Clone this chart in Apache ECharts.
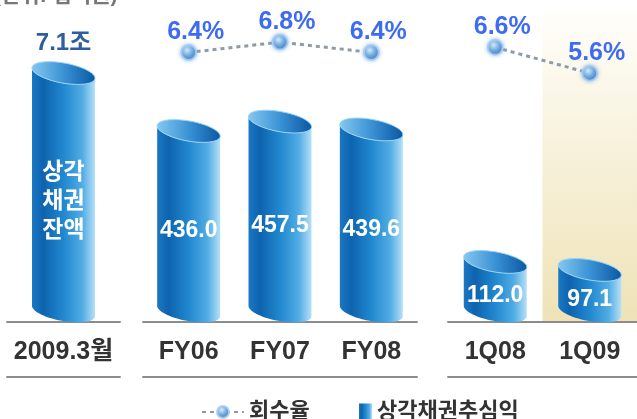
<!DOCTYPE html>
<html>
<head>
<meta charset="utf-8">
<script src="https://cdn.jsdelivr.net/npm/echarts/dist/echarts.min.js"></script>
<style>
  html, body { margin: 0; padding: 0; background: #fff; }
  #chart { width: 637px; height: 419px; }
</style>
</head>
<body>
<div id="chart"></div>
<script>
// data
var balanceCategory = ['2009.3월'];
var balanceValue = [7.1];            // 조원
var balanceText = ['상각\n채권\n잔액'];
var yearCategories = ['FY06', 'FY07', 'FY08'];
var yearCollections = [436.0, 457.5, 439.6];   // 십억원
var yearRecoveryRate = [6.4, 6.8, 6.4];        // %
var quarterCategories = ['1Q08', '1Q09'];
var quarterCollections = [112.0, 97.1];
var quarterRecoveryRate = [6.6, 5.6];

var FONT = "'Liberation Sans', 'Noto Sans CJK KR', sans-serif";
var BAR_W = 64, RY = 10, TILT = 0.18;

var bodyColor = new echarts.graphic.LinearGradient(0, 0, 1, 0, [
  { offset: 0, color: '#1a78c4' },
  { offset: 0.18, color: '#0e63ae' },
  { offset: 0.5, color: '#2188cf' },
  { offset: 0.8, color: '#52ace4' },
  { offset: 1, color: '#b5e0f8' }
]);
var topColor = new echarts.graphic.LinearGradient(0, 0, 1, 0, [
  { offset: 0, color: '#86c8ef' },
  { offset: 0.5, color: '#3a92d5' },
  { offset: 1, color: '#0a58a3' }
]);

function ellipsePts(cx, cy, t0, t1, n) {
  var rx = BAR_W / 2, pts = [];
  for (var i = 0; i <= n; i++) {
    var t = t0 + (t1 - t0) * i / n;
    pts.push([
      cx + rx * Math.cos(t) * Math.cos(TILT) - RY * Math.sin(t) * Math.sin(TILT),
      cy + rx * Math.cos(t) * Math.sin(TILT) + RY * Math.sin(t) * Math.cos(TILT)
    ]);
  }
  return pts;
}

// cylinder bar
function cylinder(labels, topLabels) {
  return function (params, api) {
    var idx = api.value(0), v = api.value(1);
    var top = api.coord([idx, v]);
    var base = api.coord([idx, 0]);
    var cx = top[0], topCy = top[1], botCy = base[1] - 11;
    var body = ellipsePts(cx, botCy, Math.PI, 0, 30).concat(ellipsePts(cx, topCy, 0, Math.PI, 30));
    var children = [
      { type: 'polygon', shape: { points: body }, style: { fill: bodyColor } },
      { type: 'polygon', shape: { points: ellipsePts(cx, topCy, 0, Math.PI * 2, 60) },
        style: { fill: topColor, stroke: '#9ad4f5', lineWidth: 1 } },
      { type: 'text', style: {
          text: labels[params.dataIndex], x: cx, y: (topCy + base[1]) / 2 + 4,
          fill: '#fff', font: 'bold 23px ' + FONT, align: 'center', verticalAlign: 'middle',
          lineHeight: 29 } }
    ];
    if (topLabels) {
      children.push({ type: 'text', style: {
        text: topLabels[params.dataIndex], x: cx, y: topCy - 30,
        fill: '#2f5d9e', font: 'bold 24px ' + FONT, align: 'center', verticalAlign: 'middle' } });
    }
    return { type: 'group', children: children };
  };
}

function pairs(arr) { return arr.map(function (v, i) { return [i, v]; }); }

var catAxis = function (grid, cats, extra) {
  return Object.assign({
    type: 'category', gridIndex: grid, data: cats,
    axisTick: { show: false },
    axisLine: { onZero: false, lineStyle: { color: '#8c8c8c', width: 2 } },
    axisLabel: { color: '#333', fontSize: 25, fontWeight: 'bold', fontFamily: FONT, margin: 18 }
  }, extra || {});
};
var lowAxis = function (grid, cats) {
  return {
    type: 'category', gridIndex: grid, data: cats, position: 'bottom', offset: 55,
    axisTick: { show: false }, axisLabel: { show: false },
    axisLine: { onZero: false, lineStyle: { color: '#8c8c8c', width: 2 } }
  };
};
var hiddenY = function (grid, min, max) {
  return { type: 'value', gridIndex: grid, min: min, max: max, show: false };
};

var sphere = new echarts.graphic.RadialGradient(0.4, 0.35, 0.7, [
  { offset: 0, color: '#d6ecfc' },
  { offset: 0.5, color: '#6fa9de' },
  { offset: 1, color: '#2e6fb5' }
]);
var lineCommon = {
  type: 'line', name: '회수율', symbol: 'circle', symbolSize: 15,
  lineStyle: { color: '#8d9aa8', width: 3, type: [4, 4] },
  itemStyle: { color: sphere, borderColor: 'rgba(170,205,240,0.9)', borderWidth: 2,
               shadowBlur: 4, shadowColor: 'rgba(120,170,230,0.6)' },
  label: { show: true, position: 'top', distance: 2, offset: [7, 3],
           color: '#3d6cf2', fontSize: 25, fontWeight: 'bold', fontFamily: FONT,
           formatter: function (p) { return p.value.toFixed(1) + '%'; } },
  z: 5
};

var myChart = echarts.init(document.getElementById('chart'));
var option = {
  animation: false,
  grid: [
    { left: 7, width: 113, top: 11, bottom: 97 },
    { left: 143, width: 274, top: 11, bottom: 97 },
    { left: 448, width: 189, top: 11, bottom: 97 }
  ],
  xAxis: [
    catAxis(0, balanceCategory),
    lowAxis(0, balanceCategory),
    catAxis(1, yearCategories),
    lowAxis(1, yearCategories),
    catAxis(2, quarterCategories, {
      splitArea: { show: true, areaStyle: { color: [
        'rgba(255,255,255,0)',
        new echarts.graphic.LinearGradient(0, 0, 0, 1, [
          { offset: 0, color: '#fffefa' },
          { offset: 1, color: '#eee2b6' }
        ])
      ] } }
    }),
    lowAxis(2, quarterCategories)
  ],
  yAxis: [
    hiddenY(0, 0, 8.87),
    hiddenY(1, 0, 710),
    hiddenY(1, -4, 8),
    hiddenY(2, 0, 580),
    hiddenY(2, -4, 8)
  ],
  legend: [
    { data: ['회수율'], left: 196, top: 396, itemWidth: 42, itemHeight: 15, selectedMode: false,
      textStyle: { color: '#333', fontSize: 22, fontWeight: 'bold', fontFamily: FONT } },
    { data: [{ name: '상각채권추심익', icon: 'rect', itemStyle: { color: bodyColor } }],
      left: 354, top: 396, itemWidth: 13, itemHeight: 17, selectedMode: false,
      textStyle: { color: '#333', fontSize: 22, fontWeight: 'bold', fontFamily: FONT } }
  ],
  graphic: [
    { type: 'text', left: -6, top: -14,
      style: { text: '(단위: 십억원)', fill: '#777', font: 'bold 21px ' + FONT } }
  ],
  series: [
    { type: 'custom', name: '상각채권잔액', xAxisIndex: 0, yAxisIndex: 0,
      data: pairs(balanceValue), encode: { x: 0, y: 1 }, clip: false,
      renderItem: cylinder(balanceText, balanceValue.map(function (v) { return v.toFixed(1) + '조'; })) },
    { type: 'custom', name: '상각채권추심익', xAxisIndex: 2, yAxisIndex: 1,
      data: pairs(yearCollections), encode: { x: 0, y: 1 }, clip: false,
      itemStyle: { color: '#1f84cb' },
      renderItem: cylinder(yearCollections.map(function (v) { return v.toFixed(1); })) },
    { type: 'custom', name: '상각채권추심익', xAxisIndex: 4, yAxisIndex: 3,
      data: pairs(quarterCollections), encode: { x: 0, y: 1 }, clip: false,
      itemStyle: { color: '#1f84cb' },
      renderItem: cylinder(quarterCollections.map(function (v) { return v.toFixed(1); })) },
    Object.assign({}, lineCommon, { xAxisIndex: 2, yAxisIndex: 2, data: yearRecoveryRate }),
    Object.assign({}, lineCommon, { xAxisIndex: 4, yAxisIndex: 4, data: quarterRecoveryRate })
  ]
};
myChart.setOption(option);
</script>
</body>
</html>
